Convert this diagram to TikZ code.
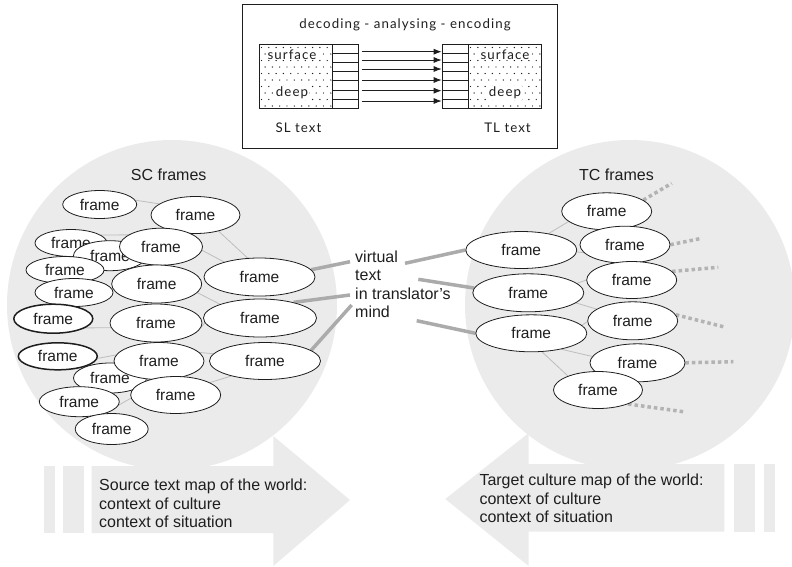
\documentclass[tikz,border=0pt]{standalone}
\usepackage{fontspec}
\setmainfont{Liberation Sans}
\newfontfamily\boxfont[LetterSpace=8]{Lato}
\usetikzlibrary{shapes.geometric,arrows.meta}
\pgfdeclarelayer{back}
\pgfdeclarelayer{links}
\pgfsetlayers{back,links,main}

\definecolor{mapgray}{HTML}{EBEBEB}
\definecolor{thinlink}{HTML}{BDBDBD}
\definecolor{thicklink}{HTML}{ABABAB}
\definecolor{dotlink}{HTML}{B3B3B3}
\definecolor{ink}{HTML}{1E1E1E}

\begin{document}
\begin{tikzpicture}[x=1pt,y=-1pt,
  frm/.style={ellipse, draw=ink, fill=white, line width=0.8pt, inner sep=0pt,
    text=ink, font=\fontsize{15.5}{18}\selectfont},
  frmb/.style={frm, line width=1.5pt},
  thin link/.style={draw=thinlink, line width=0.8pt},
  thick link/.style={draw=thicklink, line width=3.5pt},
  dot link/.style={draw=dotlink, line width=3.5pt, dash pattern=on 3.5pt off 3pt},
  lbl/.style={text=ink, inner sep=0pt, font=\fontsize{16}{18.5}\selectfont},
  boxtxt/.style={inner sep=0pt, text=ink, font=\boxfont\fontsize{13.3}{15}\selectfont},
  layerbox/.style={draw=ink, line width=0.9pt},
  flow/.style={draw=ink, line width=0.9pt, -{Latex[length=8pt,width=6pt]}}]
\useasboundingbox (0,0) rectangle (792,566);

% ---------- background: culture circles and map arrows ----------
\begin{pgfonlayer}{back}
  \fill[mapgray] (172,305) circle[radius=165pt];
  \fill[mapgray] (630,305) circle[radius=165pt];
  % source map arrow (pointing right)
  \fill[mapgray] (44.3,466) rectangle (55,533);
  \fill[mapgray] (63.3,466) rectangle (84,533);
  \fill[mapgray] (91.7,466) -- (273.3,466) -- (273.3,436) -- (350,500)
               -- (273.3,566) -- (273.3,533) -- (91.7,533) -- cycle;
  % target map arrow (pointing left)
  \fill[mapgray] (775.3,464) rectangle (764.3,531.7);
  \fill[mapgray] (754.7,464) rectangle (733.7,531.7);
  \fill[mapgray] (724.3,464) -- (528.7,464) -- (528.7,433) -- (445.3,499)
               -- (528.7,566) -- (528.7,531.7) -- (724.3,531.7) -- cycle;
\end{pgfonlayer}

% ---------- top panel: decoding - analysing - encoding ----------
\draw[layerbox] (242,4) rectangle (557,148);
\node[boxtxt] (dec) at (405,25) {decoding - analysing - encoding};

% dotted text blocks
\draw[layerbox] (259.3,44.3) rectangle (332.3,108.3);
\draw[layerbox] (468.3,44.3) rectangle (541.7,108.3);
\foreach \r in {0,...,9}{
  \pgfmathsetmacro\yy{47.5+6.5*\r}
  \pgfmathsetmacro\off{mod(\r,2)*3.6}
  \foreach \c in {0,...,9}{
    \pgfmathsetmacro\xa{261.5+\off+7.3*\c}
    \pgfmathsetmacro\xb{470.5+\off+7.3*\c}
    \fill[ink] (\xa,\yy) circle[radius=0.7pt];
    \fill[ink] (\xb,\yy) circle[radius=0.7pt];
  }
}
\node[boxtxt, fill=white, inner sep=0.5pt] (ls) at (292,55) {surface};
\node[boxtxt, fill=white, inner sep=0.5pt] (ld) at (292,93) {deep};
\node[boxtxt, fill=white, inner sep=0.5pt] (rs) at (505,55) {surface};
\node[boxtxt, fill=white, inner sep=0.5pt] (rd) at (505,93) {deep};

% layered stacks
\node[layerbox, inner sep=0pt, minimum width=26pt, minimum height=64pt,
      anchor=north west] (lstack) at (332.3,44.3) {};
\node[layerbox, inner sep=0pt, minimum width=26.6pt, minimum height=64pt,
      anchor=north west] (rstack) at (441.7,44.3) {};
\foreach \k in {1,...,6}{
  \draw[draw=ink, line width=0.9pt] (332.3,{44.3+9.143*\k}) -- ++(26,0);
  \draw[draw=ink, line width=0.9pt] (441.7,{44.3+9.143*\k}) -- ++(26.6,0);
}
\foreach \yy in {51.7,60,69,80,90.7,101}{
  \coordinate (lev) at (0,\yy);
  \draw[flow] (lstack.east |- lev) ++(3,0) -- (rstack.west |- lev);
}
\node[boxtxt] (sl) at (298.5,128) {SL text};
\node[boxtxt] (tl) at (507.5,128) {TL text};

% ---------- source culture frames ----------
\node[lbl] (sc) at (168.7,175) {SC frames};
\node[frm, minimum width=74pt, minimum height=28pt] (f1) at (99.7,204.5) {frame};
\node[frm, minimum width=89pt, minimum height=37pt] (f2) at (195.5,215) {frame};
\node[frm, minimum width=72pt, minimum height=27pt] (f3) at (71,243) {frame};
\node[frm, minimum width=73pt, minimum height=30pt] (f4) at (110,255.7) {frame};
\node[frm, minimum width=83pt, minimum height=37pt] (f5) at (161,246.7) {frame};
\node[frm, minimum width=78pt, minimum height=27pt] (f6) at (65,270) {frame};
\node[frm, minimum width=78pt, minimum height=28pt] (f7) at (74,292.5) {frame};
\node[frm, minimum width=90pt, minimum height=38pt] (f8) at (156.7,284) {frame};
\node[frm, minimum width=111pt, minimum height=38pt] (f9) at (259.5,277) {frame};
\node[frmb, minimum width=79pt, minimum height=29pt] (f10) at (53.3,318.7) {frame};
\node[frm, minimum width=92pt, minimum height=38pt] (f11) at (156,323) {frame};
\node[frm, minimum width=113pt, minimum height=38pt] (f12) at (260,318) {frame};
\node[frm, minimum width=73pt, minimum height=30pt] (f16) at (110,378) {frame};
\node[frmb, minimum width=79pt, minimum height=27pt] (f13) at (57.8,356.3) {frame};
\node[frm, minimum width=90pt, minimum height=37pt] (f14) at (159,361) {frame};
\node[frm, minimum width=111pt, minimum height=37pt] (f15) at (265,361) {frame};
\node[frm, minimum width=90pt, minimum height=37pt] (f17) at (175.7,395) {frame};
\node[frm, minimum width=80pt, minimum height=30pt] (f18) at (79.3,401.7) {frame};
\node[frm, minimum width=73pt, minimum height=31pt] (f19) at (111.7,429) {frame};

% ---------- target culture frames ----------
\node[lbl] (tc) at (616.5,175) {TC frames};
\node[frm, minimum width=111pt, minimum height=37pt] (fA) at (521.3,250) {frame};
\node[frm, minimum width=111pt, minimum height=38pt] (fB) at (528.3,292.8) {frame};
\node[frm, minimum width=111pt, minimum height=37pt] (fC) at (531.3,333.3) {frame};
\node[frm, minimum width=90pt, minimum height=37pt] (fD) at (606.7,211.3) {frame};
\node[frm, minimum width=90pt, minimum height=37pt] (fE) at (625,244.7) {frame};
\node[frm, minimum width=90pt, minimum height=37pt] (fF) at (631.7,280) {frame};
\node[frm, minimum width=90pt, minimum height=38pt] (fG) at (632.7,320.8) {frame};
\node[frm, minimum width=95pt, minimum height=38pt] (fH) at (637.5,362.8) {frame};
\node[frm, minimum width=89pt, minimum height=37pt] (fI) at (598,390) {frame};

% ---------- virtual text ----------
\node[lbl, align=left, anchor=north west] (vt) at (355,250.5)
  {virtual\\text\\in translator's\\mind};
\coordinate (v1) at (350,261.7);
\coordinate (v2) at (350,295);
\coordinate (v3) at (351.7,305);
\coordinate (w1) at (405,263.3);
\coordinate (w2) at (418.3,279.3);
\coordinate (w3) at (416.7,320.7);

% open-ended links leaving the target frames
\coordinate (d1) at (671.7,183.3);
\coordinate (d2) at (701.7,238.3);
\coordinate (d3) at (718.3,267.3);
\coordinate (d4) at (723.3,326.7);
\coordinate (d5) at (733.3,361.7);
\coordinate (d6) at (683.3,411.7);

% ---------- map texts ----------
\node[lbl, align=left, anchor=north west] (src) at (99,479)
  {Source text map of the world:\\context of culture\\context of situation};
\node[lbl, align=left, anchor=north west] (tgt) at (479.3,474)
  {Target culture map of the world:\\context of culture\\context of situation};

% ---------- connectors ----------
\begin{pgfonlayer}{links}
  \draw[thin link] (f1.7) -- (f2.163);
  \draw[thin link] (f3.15) -- (f5.160);
  \draw[thin link] (f2.325) -- (f9.122);
  \draw[thin link] (f5.355) -- (f9.157);
  \draw[thin link] (f8.348) -- (f12.161);
  \draw[thin link] (f10.344) -- (f11.186);
  \draw[thin link] (f11.355) -- (f12.185);
  \draw[thin link] (f13.357) -- (f14.172);
  \draw[thin link] (f14.12) -- (f15.172);
  \draw[thin link] (f15.204) -- (f17.20);
  \draw[thin link] (f18.355) -- (f17.184);

  \draw[thin link] (fA.31) -- (fD.195);
  \draw[thin link] (fA.358) -- (fE.191);
  \draw[thin link] (fB.11) -- (fF.180);
  \draw[thin link] (fB.348) -- (fG.162);
  \draw[thin link] (fC.9) -- (fG.181);
  \draw[thin link] (fC.332) -- (fH.172);
  \draw[thin link] (fC.300) -- (fI.155);

  \draw[thick link] (f9.8) -- (v1);
  \draw[thick link] (f12.25) -- (v2);
  \draw[thick link] (f15.13) -- (v3);
  \draw[thick link] (w1) -- (fA.west);
  \draw[thick link] (w2) -- (fB.175);
  \draw[thick link] (w3) -- (fC.west);

  \draw[dot link] (fD.17) -- (d1);
  \draw[dot link] (fE.east) -- (d2);
  \draw[dot link] (fF.12) -- (d3);
  \draw[dot link] (fG.8) -- (d4);
  \draw[dot link] (fH.east) -- (d5);
  \draw[dot link] (fI.335) -- (d6);
\end{pgfonlayer}
\end{tikzpicture}
\end{document}
